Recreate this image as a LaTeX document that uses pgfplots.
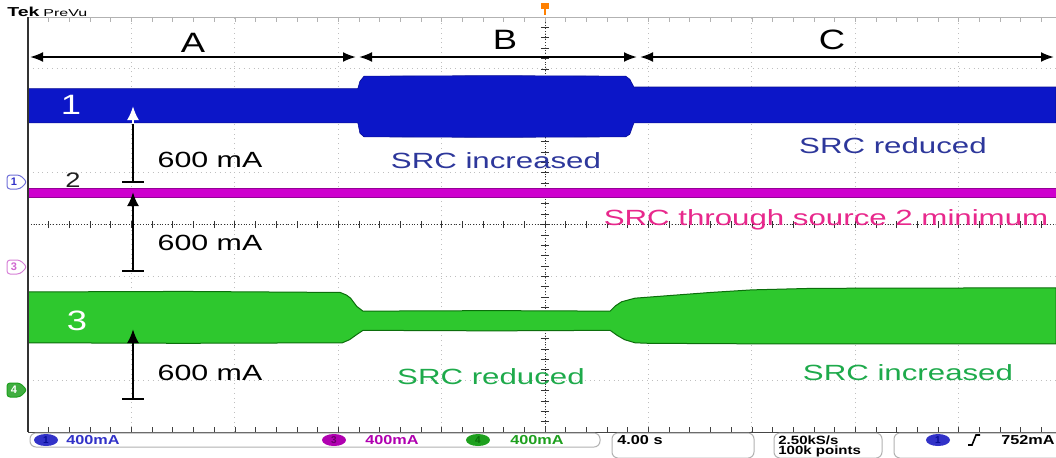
\documentclass[border=0pt]{standalone}
\usepackage{pgfplots}
\pgfplotsset{compat=1.18}
\usepackage{fontspec}
\setmainfont{Liberation Sans}
\usetikzlibrary{arrows.meta}
\definecolor{tblue}{RGB}{12,22,200}
\definecolor{tdblue}{RGB}{8,14,150}
\definecolor{tmag}{RGB}{206,0,206}
\definecolor{tdmag}{RGB}{150,0,150}
\definecolor{tgreen}{RGB}{46,200,46}
\definecolor{tdgreen}{RGB}{12,110,12}
\definecolor{lblue}{RGB}{45,55,155}
\definecolor{lmag}{RGB}{232,40,140}
\definecolor{lgreen}{RGB}{30,170,75}
\definecolor{sblue}{RGB}{50,50,200}
\definecolor{smag}{RGB}{176,0,176}
\definecolor{sgreen}{RGB}{30,160,30}
\newcommand{\wide}[2][1.42]{\scalebox{#1}[1]{#2}}
\begin{document}
\begin{tikzpicture}
\useasboundingbox (0,0) rectangle (528pt,-228.5pt);
\fill[white] (0,0) rectangle (528pt,-228.5pt);
\begin{axis}[at={(14pt,-216pt)}, anchor=south west,
  width=514pt, height=207.5pt, scale only axis,
  xmin=0, xmax=9.942, ymin=-4, ymax=4,
  axis line style={draw=none},
  xtick={1,...,9}, ytick={-3,...,3},
  xticklabels={}, yticklabels={}, major tick length=0pt,
  grid=major, major grid style={gray!50, dotted, line width=0.5pt},
  clip=true]
% centre cross
\addplot[gray!40!black, densely dotted, line width=0.4pt] coordinates {(5,-4) (5,4)};
\addplot[gray!40!black, densely dotted, line width=0.4pt] coordinates {(0,0) (9.942,0)};
\pgfplotsinvokeforeach{0,...,40}{
  \draw[gray!40!black, line width=0.3pt] (axis cs:4.96,{-4+#1*0.2}) -- (axis cs:5.04,{-4+#1*0.2});
}
\pgfplotsinvokeforeach{0,...,50}{
  \draw[gray!40!black, line width=0.3pt] (axis cs:{#1*0.2},-0.07) -- (axis cs:{#1*0.2},0.07);
}
% channel 1 (blue)
\addplot[fill=tblue, draw=tdblue, line width=0.3pt] coordinates {
 (0,2.62) (3.19,2.62) (3.21,2.76) (3.25,2.86) (4.5,2.87) (5.78,2.86) (5.82,2.80) (5.86,2.65) (9.942,2.65)
 (9.942,1.96) (5.86,1.96) (5.82,1.74) (5.78,1.69) (4.5,1.68) (3.25,1.69) (3.21,1.76) (3.19,1.96) (0,1.96)};
% channel 3 (magenta)
\addplot[fill=tmag, draw=tdmag, line width=0.3pt] coordinates {
 (0,0.70) (9.942,0.70) (9.942,0.53) (0,0.53)};
% channel 4 (green)
\addplot[fill=tgreen, draw=tdgreen, line width=0.5pt] coordinates {
 (0,-1.30) (1.5,-1.29) (3.02,-1.31) (3.08,-1.36) (3.12,-1.42) (3.18,-1.58) (3.24,-1.67) (4.5,-1.66) (5.63,-1.67)
 (5.68,-1.57) (5.74,-1.49) (5.87,-1.42) (6.2,-1.37) (6.6,-1.31) (7.0,-1.26) (7.6,-1.23) (9.942,-1.22)
 (9.942,-2.30) (7.0,-2.30) (6.0,-2.29) (5.87,-2.28) (5.77,-2.22) (5.70,-2.14) (5.63,-2.04) (4.5,-2.05) (3.24,-2.04)
 (3.18,-2.12) (3.11,-2.22) (3.04,-2.28) (1.5,-2.29) (0,-2.28)};
\end{axis}
\begin{scope}[x=0.5pt,y=-0.5pt]
% borders and edge ticks
\draw[gray!60, line width=0.4pt] (28,17) -- (1056,17);
\draw[gray!55!black, line width=0.5pt] (28,432) -- (1056,432);
\foreach \i in {0,...,49}{
  \draw[gray!60, line width=0.3pt] ({28+\i*20.68},17) -- ++(0,5);
  \draw[gray!50!black, line width=0.3pt] ({28+\i*20.68},432) -- ++(0,-5);
}
\draw[gray!40!black, line width=1.1pt] (28,17) -- (28,432);
% Tek header
\node[anchor=west, inner sep=0pt, font=\bfseries\fontsize{6.5}{7}\selectfont] at (7,12) {\wide[1.5]{Tek}};
\node[anchor=west, inner sep=0pt, font=\fontsize{5}{6}\selectfont] at (43,13) {\wide[1.6]{PreVu}};
% trigger marker
\fill[orange] (541,3) rectangle (549,9);
\draw[orange, line width=0.6pt] (545,9) -- (545,15);
% channel markers
\draw[sblue!70, fill=white, line width=0.5pt, rounded corners=1.5pt] (7,175) -- (20,175) -- (27,182) -- (20,189) -- (7,189) -- cycle;
\node[sblue, font=\bfseries\fontsize{5.5}{6}\selectfont] at (14,182) {1};
\draw[smag!50, fill=white, line width=0.5pt, rounded corners=1.5pt] (7,260) -- (20,260) -- (27,267) -- (20,274) -- (7,274) -- cycle;
\node[smag!60, font=\bfseries\fontsize{5.5}{6}\selectfont] at (14,267) {3};
\draw[sgreen, fill=sgreen!85, line width=0.5pt, rounded corners=1.5pt] (7,383) -- (20,383) -- (27,390) -- (20,397) -- (7,397) -- cycle;
\node[white, font=\bfseries\fontsize{5.5}{6}\selectfont] at (14,390) {4};
% region arrows
\draw[{Latex[length=6.5pt,width=5pt]}-{Latex[length=6.5pt,width=5pt]}, line width=1pt] (30,57) -- (356,57);
\draw[{Latex[length=6.5pt,width=5pt]}-{Latex[length=6.5pt,width=5pt]}, line width=1pt] (359,57) -- (637,57);
\draw[{Latex[length=6.5pt,width=5pt]}-{Latex[length=6.5pt,width=5pt]}, line width=1pt] (640,57) -- (1054,57);
\node[font=\fontsize{14}{16}\selectfont] at (193,43) {\wide[1.3]{A}};
\node[font=\fontsize{14}{16}\selectfont] at (505,40) {\wide[1.3]{B}};
\node[font=\fontsize{14}{16}\selectfont] at (832,40) {\wide[1.3]{C}};
% 600 mA arrows
\draw[line width=1.1pt] (133,182) -- (133,123);
\draw[white, line width=1.1pt, -{Latex[length=7pt,width=6pt]}] (133,124) -- (133,106);
\draw[line width=1.1pt] (122,182) -- (144,182);
\draw[line width=1.1pt, -{Latex[length=7pt,width=6pt]}] (133,271) -- (133,192);
\draw[line width=1.1pt] (122,271) -- (144,271);
\draw[line width=1.1pt, -{Latex[length=7pt,width=6pt]}] (133,399) -- (133,329);
\draw[line width=1.1pt] (122,399) -- (144,399);
\node[font=\fontsize{11}{13}\selectfont] at (210,160) {\wide[1.38]{600 mA}};
\node[font=\fontsize{11}{13}\selectfont] at (210,243) {\wide[1.38]{600 mA}};
\node[font=\fontsize{11}{13}\selectfont] at (210,373) {\wide[1.38]{600 mA}};
% trace numbers
\node[white, font=\fontsize{14}{16}\selectfont] at (71,105) {\wide[1.3]{1}};
\node[gray!25!black, font=\fontsize{10.5}{12}\selectfont] at (73,180) {\wide[1.3]{2}};
\node[white, font=\fontsize{14}{16}\selectfont] at (77,321) {\wide[1.3]{3}};
% annotations
\node[lblue, font=\fontsize{11}{13}\selectfont] at (496,161) {\wide{SRC increased}};
\node[lblue, font=\fontsize{11}{13}\selectfont] at (893,146) {\wide{SRC reduced}};
\node[lmag, font=\fontsize{11}{13}\selectfont] at (826,220) {\wide{SRC through source 2 minimum}};
\node[lgreen, font=\fontsize{11}{13}\selectfont] at (491,377) {\wide{SRC reduced}};
\node[lgreen, font=\fontsize{11}{13}\selectfont] at (908,373) {\wide{SRC increased}};
% status bar
\draw[gray!60, line width=0.5pt, rounded corners=3pt] (30,433) rectangle (600,447);
\fill[sblue] (46,440) ellipse (12 and 6);
\node[tdblue, font=\bfseries\fontsize{5}{6}\selectfont] at (46,440) {1};
\node[sblue, font=\bfseries\fontsize{6.5}{7}\selectfont] at (93,440) {\wide[1.25]{400mA}};
\fill[smag] (334,440) ellipse (12 and 6);
\node[tdmag!70!black, font=\bfseries\fontsize{5}{6}\selectfont] at (334,440) {3};
\node[smag, font=\bfseries\fontsize{6.5}{7}\selectfont] at (392,440) {\wide[1.25]{400mA}};
\fill[sgreen] (478,440) ellipse (12 and 6);
\node[tdgreen, font=\bfseries\fontsize{5}{6}\selectfont] at (478,440) {4};
\node[sgreen, font=\bfseries\fontsize{6.5}{7}\selectfont] at (537,440) {\wide[1.25]{400mA}};
\draw[gray!60, line width=0.5pt, rounded corners=3pt] (612,433) rectangle (754,458);
\node[anchor=west, inner sep=0pt, font=\bfseries\fontsize{6.5}{7}\selectfont] at (617,440) {\wide[1.25]{4.00 s}};
\draw[gray!60, line width=0.5pt, rounded corners=3pt] (774,433) rectangle (882,458);
\node[anchor=west, inner sep=0pt, font=\bfseries\fontsize{6}{7}\selectfont] at (778,440) {\wide[1.25]{2.50kS/s}};
\node[anchor=west, inner sep=0pt, font=\bfseries\fontsize{6}{7}\selectfont] at (778,451.5) {\wide[1.25]{100k points}};
\draw[gray!60, line width=0.5pt, rounded corners=3pt] (894,433) rectangle (1064,458);
\fill[sblue] (938,440) ellipse (12 and 6);
\node[tdblue, font=\bfseries\fontsize{5}{6}\selectfont] at (938,440) {1};
\draw[line width=0.8pt] (968,445) -- (972,445) -- (976,435) -- (980,435);
\node[anchor=east, inner sep=0pt, font=\bfseries\fontsize{6.5}{7}\selectfont] at (1055,440) {\wide[1.25]{752mA}};
\end{scope}
\end{tikzpicture}
\end{document}
